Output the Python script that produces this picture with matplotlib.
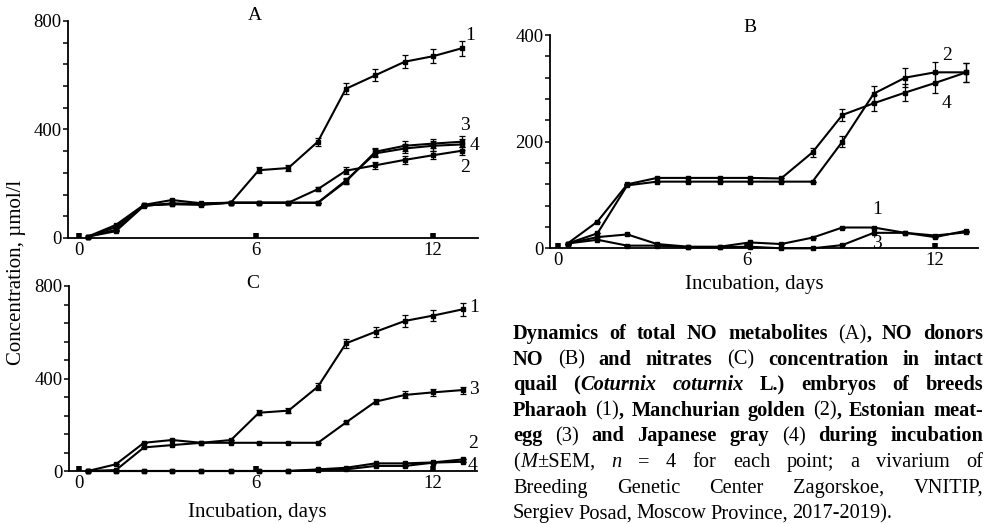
import matplotlib
matplotlib.use("Agg")
import matplotlib.pyplot as plt
from matplotlib.ticker import MultipleLocator

plt.rcParams['font.family'] = ['Liberation Serif', 'DejaVu Serif']

W, H = 986, 524

# incubation days of the measuring points
days = [0.3, 1.25, 2.2, 3.15, 4.15, 5.15, 6.1, 7.1, 8.1, 9.05, 10.05, 11.05, 12.0, 13.0]

# A: total NO metabolites
a1 = [5, 40, 120, 125, 122, 130, 250, 258, 355, 550, 600, 650, 670, 700]
a2 = [5, 30, 120, 125, 125, 130, 130, 130, 180, 248, 268, 288, 305, 322]
a3 = [5, 48, 122, 140, 128, 130, 130, 130, 130, 208, 318, 340, 348, 355]
a4 = [5, 25, 118, 128, 125, 130, 130, 130, 130, 212, 312, 330, 340, 345]
a1_err = [0, 0, 0, 0, 0, 0, 10, 10, 15, 20, 22, 25, 25, 28]
a2_err = [0, 0, 0, 0, 0, 0, 0, 0, 8, 12, 14, 14, 15, 15]
a3_err = [0, 0, 0, 0, 0, 0, 0, 0, 0, 10, 15, 18, 18, 20]
a4_err = [0, 0, 0, 0, 0, 0, 0, 0, 0, 10, 15, 18, 18, 20]

# B: NO donors
b1 = [9, 21, 26, 8, 3, 3, 11, 8, 20, 39, 39, 29, 21, 33]
b2 = [9, 28, 118, 125, 125, 125, 125, 125, 125, 200, 290, 320, 330, 330]
b3 = [9, 16, 5, 5, 2, 2, 3, 0, 0, 6, 29, 29, 24, 30]
b4 = [9, 50, 120, 132, 132, 132, 132, 131, 180, 250, 272, 292, 310, 330]
b1_err = [0] * 14
b2_err = [0, 0, 0, 0, 0, 0, 0, 0, 0, 10, 15, 18, 20, 18]
b3_err = [0] * 14
b4_err = [0, 0, 0, 0, 0, 0, 0, 0, 8, 12, 15, 16, 18, 18]

# C: nitrates
c1 = [0, 29, 122, 134, 122, 134, 252, 261, 365, 552, 602, 649, 672, 699]
c2 = [0, 0, 0, 0, 0, 0, 0, 0, 7, 14, 33, 33, 37, 50]
c3 = [0, 4, 102, 112, 122, 122, 122, 122, 122, 210, 300, 329, 340, 350]
c4 = [0, 0, 0, 0, 0, 0, 0, 0, 4, 7, 22, 22, 36, 40]
c1_err = [0, 0, 0, 0, 0, 0, 10, 10, 15, 20, 22, 25, 25, 28]
c2_err = [0] * 14
c3_err = [0, 0, 0, 0, 0, 0, 0, 0, 0, 8, 12, 15, 15, 15]
c4_err = [0] * 14

x_ticks = [0, 6, 12]


def px(x, y):
    return x / W, 1 - y / H


def setup(ax, ymax, minor, xlim):
    ax.set_xlim(*xlim)
    ax.set_ylim(0, ymax)
    ax.spines['top'].set_visible(False)
    ax.spines['right'].set_visible(False)
    for s in ('left', 'bottom'):
        ax.spines[s].set_linewidth(1.3)
    ax.set_xticks(x_ticks)
    ax.set_yticks([0, ymax / 2, ymax])
    ax.set_yticklabels([f'{v:.0f}' for v in [0, ymax / 2, ymax]])
    ax.yaxis.set_minor_locator(MultipleLocator(minor))
    ax.tick_params(axis='y', which='both', direction='out', length=3.5, width=1.1,
                   labelsize=13.5, pad=1)
    ax.tick_params(axis='x', direction='in', length=3.5, width=4, labelsize=13.5, pad=3)
    ax.patch.set_visible(False)


def draw(ax, y, err):
    ax.errorbar(days, y, yerr=err, color='k', lw=1.5, marker='s', ms=3.2,
                capsize=2.5, elinewidth=0.9, capthick=0.9, clip_on=False)


fig = plt.figure(figsize=(W / 100, H / 100), dpi=100)

axA = fig.add_axes([68 / W, 1 - 238 / H, 410 / W, 217 / H])
setup(axA, 800, 80, (-0.37, 13.53))
for y, e in [(a1, a1_err), (a2, a2_err), (a3, a3_err), (a4, a4_err)]:
    draw(axA, y, e)

axB = fig.add_axes([550 / W, 1 - 248.3 / H, 428 / W, 213.3 / H])
setup(axB, 400, 40, (-0.26, 13.37))
for y, e in [(b1, b1_err), (b2, b2_err), (b3, b3_err), (b4, b4_err)]:
    draw(axB, y, e)

axC = fig.add_axes([69 / W, 1 - 471 / H, 408 / W, 185 / H])
setup(axC, 800, 80, (-0.34, 13.49))
for y, e in [(c1, c1_err), (c2, c2_err), (c3, c3_err), (c4, c4_err)]:
    draw(axC, y, e)

fs = 14
lab_fs = 15
# panel letters
fig.text(*px(255, 15), 'A', ha='center', va='center', fontsize=fs)
fig.text(*px(750, 27), 'B', ha='center', va='center', fontsize=fs)
fig.text(*px(253, 283), 'C', ha='center', va='center', fontsize=fs)
# series numbers
for x, y, s in [(470, 35, '1'), (465, 125, '3'), (474, 145, '4'), (465, 167, '2'),
                (947, 55, '2'), (947, 103, '4'), (877, 210, '1'), (877, 243, '3'),
                (474, 307, '1'), (474, 390, '3'), (473, 443, '2'), (473, 465, '4')]:
    fig.text(*px(x, y), s, ha='center', va='center', fontsize=fs)

fig.text(*px(754, 285), 'Incubation, days', ha='center', va='center', fontsize=lab_fs)
fig.text(*px(257, 512), 'Incubation, days', ha='center', va='center', fontsize=lab_fs)
fig.text(*px(17, 272), 'Concentration, µmol/l', rotation=90, ha='center', va='center',
         fontsize=lab_fs)

# caption, justified, with mixed bold / normal / italic pieces
caption_lines = [
    [[('Dynamics', 'b')], [('of', 'b')], [('total', 'b')], [('NO', 'b')],
     [('metabolites', 'b')], [('(A)', 'n'), (',', 'b')], [('NO', 'b')], [('donors', 'b')]],
    [[('NO', 'b')], [('(B)', 'n')], [('and', 'b')], [('nitrates', 'b')], [('(C)', 'n')],
     [('concentration', 'b')], [('in', 'b')], [('intact', 'b')]],
    [[('quail', 'b')], [('(', 'b'), ('Coturnix', 'bi')], [('coturnix', 'bi')], [('L.)', 'b')],
     [('embryos', 'b')], [('of', 'b')], [('breeds', 'b')]],
    [[('Pharaoh', 'b')], [('(1)', 'n'), (',', 'b')], [('Manchurian', 'b')], [('golden', 'b')],
     [('(2)', 'n'), (',', 'b')], [('Estonian', 'b')], [('meat-', 'b')]],
    [[('egg', 'b')], [('(3)', 'n')], [('and', 'b')], [('Japanese', 'b')], [('gray', 'b')],
     [('(4)', 'n')], [('during', 'b')], [('incubation', 'b')]],
    [[('(', 'n'), ('M', 'i'), ('±SEM,', 'n')], [('n', 'i')], [('=', 'n')], [('4', 'n')],
     [('for', 'n')], [('each', 'n')], [('point;', 'n')], [('a', 'n')], [('vivarium', 'n')],
     [('of', 'n')]],
    [[('Breeding', 'n')], [('Genetic', 'n')], [('Center', 'n')], [('Zagorskoe,', 'n')],
     [('VNITIP,', 'n')]],
    [[('Sergiev', 'n')], [('Posad,', 'n')], [('Moscow', 'n')], [('Province,', 'n')],
     [('2017-2019).', 'n')]],
]

cap_fs = 14.7
cap_left, cap_right = 513, 983
base0, step = 339, 25.6
renderer = fig.canvas.get_renderer()


def make_piece(s, st):
    return fig.text(0, 0, s, fontsize=cap_fs, va='baseline', ha='left',
                    fontweight='bold' if 'b' in st else 'normal',
                    fontstyle='italic' if 'i' in st else 'normal')


for i, line in enumerate(caption_lines):
    base = base0 + i * step
    toks = []
    for tok in line:
        objs = []
        for s, st in tok:
            t = make_piece(s, st)
            objs.append((t, t.get_window_extent(renderer).width))
        toks.append(objs)
    total = sum(w for objs in toks for _, w in objs)
    if i < len(caption_lines) - 1:
        gap = (cap_right - cap_left - total) / (len(toks) - 1)
    else:
        gap = 4.0
    x = cap_left
    for objs in toks:
        for t, w in objs:
            t.set_position(px(x, base))
            x += w
        x += gap

fig.savefig('out.png', dpi=100)
